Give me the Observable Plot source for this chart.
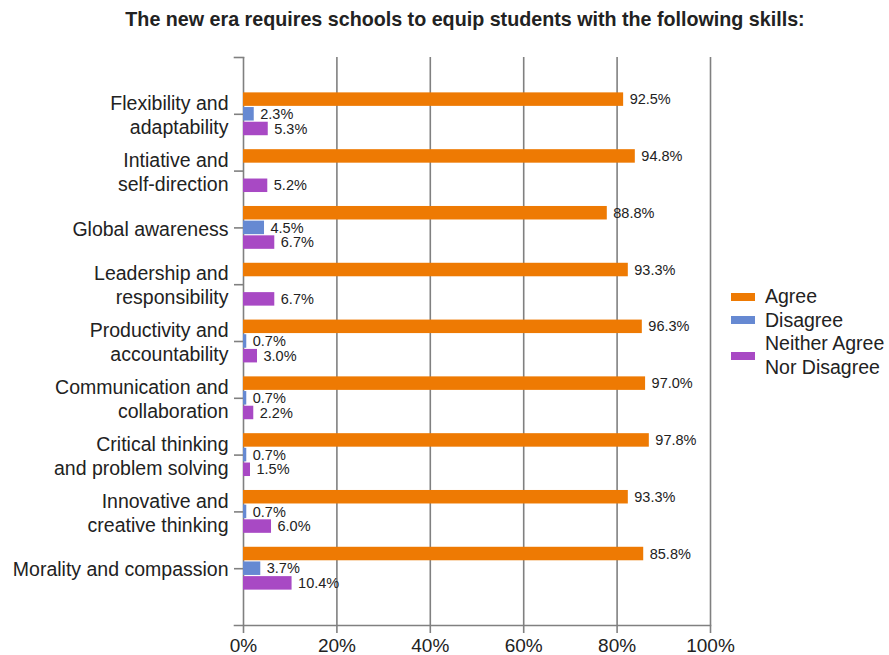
<!DOCTYPE html>
<html><head><meta charset="utf-8">
<script src="https://cdn.jsdelivr.net/npm/d3@7"></script>
<script src="https://cdn.jsdelivr.net/npm/@observablehq/plot@0.6"></script>
<style>
body{margin:0;background:#fff;font-family:"Liberation Sans",Arial,Helvetica,sans-serif;color:#222}
#wrap{position:relative;width:889px;height:655px;overflow:hidden}
#title{position:absolute;top:7px;left:465px;transform:translateX(-50%);white-space:nowrap;font-weight:bold;font-size:19.7px;line-height:24px}
#bg,#fg{position:absolute;top:40px;left:0}
#legend{position:absolute;left:731px;top:285px;font-size:19.5px}
.row{display:flex;align-items:center;line-height:23.5px}
.sw{width:24px;height:8px;margin-right:10px;flex:none}
.lab{white-space:pre-line}
</style></head><body>
<div id="wrap"><div id="title"></div><div id="bg"></div><div id="fg"></div><div id="legend"></div></div>
<script>
const titleText = "The new era requires schools to equip students with the following skills:";
const categories = [
  "Flexibility and\nadaptability",
  "Intiative and\nself-direction",
  "Global awareness",
  "Leadership and\nresponsibility",
  "Productivity and\naccountability",
  "Communication and\ncollaboration",
  "Critical thinking\nand problem solving",
  "Innovative and\ncreative thinking",
  "Morality and compassion"
];
const series = ["Agree", "Disagree", "Neither Agree Nor Disagree"];
const legendLabels = ["Agree", "Disagree", "Neither Agree\nNor Disagree"];
const colors = ["#EE7A03", "#6689D2", "#A849C4"];
// Agree: printed value labels, and bar lengths as drawn in the reference
const agreeValues = [92.5, 94.8, 88.8, 93.3, 96.3, 97.0, 97.8, 93.3, 85.8];
const agreeBars   = [81.4, 83.9, 77.9, 82.4, 85.4, 86.1, 86.9, 82.4, 85.7];
const disagree = [2.3, null, 4.5, null, 0.7, 0.7, 0.7, 0.7, 3.7];
const neither  = [5.3, 5.2, 6.7, 6.7, 3.0, 2.2, 1.5, 6.0, 10.4];
const xTicks = [0, 20, 40, 60, 80, 100];

const fmt = v => v.toFixed(1) + "%";
const rows = [];
categories.forEach((c, i) => {
  rows.push({category: c, series: series[0], value: agreeBars[i], label: fmt(agreeValues[i])});
  if (disagree[i] != null) rows.push({category: c, series: series[1], value: disagree[i], label: fmt(disagree[i])});
  if (neither[i] != null) rows.push({category: c, series: series[2], value: neither[i], label: fmt(neither[i])});
});

document.getElementById("title").textContent = titleText;

const W = 889, H = 615, mL = 243, mR = 179, mT = 17, mB = 30;
const grid = "#808080";
const font = "Liberation Sans, Arial, Helvetica, sans-serif";
const catPad = {type: "band", paddingInner: 0.225, paddingOuter: 0.6125, round: false};

// background: grid, axes, category labels
const bg = Plot.plot({
  width: W, height: H,
  marginTop: mT, marginBottom: mB, marginLeft: mL, marginRight: mR,
  style: {fontFamily: font, color: "#222", background: "transparent", overflow: "visible"},
  x: {domain: [0, 100]},
  y: {domain: categories, ...catPad},
  marks: [
    Plot.ruleX(xTicks, {stroke: grid, strokeWidth: 1.6, insetBottom: -8}),
    Plot.frame({anchor: "bottom", stroke: grid, strokeWidth: 1.6, insetLeft: -9}),
    Plot.frame({anchor: "top", stroke: grid, strokeWidth: 1.6, insetLeft: -9, insetRight: W - mL - mR}),
    Plot.axisY({anchor: "left", tickSize: 9, tickPadding: 6, fontSize: 19.5, lineHeight: 1.23, stroke: grid, strokeWidth: 1.6, label: null}),
    Plot.axisX({anchor: "bottom", ticks: xTicks, tickFormat: d => d + "%", tickSize: 0, tickPadding: 13, fontSize: 19, label: null})
  ]
});
document.getElementById("bg").append(bg);

// foreground: grouped bars and value labels
const fg = Plot.plot({
  width: W, height: H,
  marginTop: mT, marginBottom: mB, marginLeft: mL, marginRight: mR,
  style: {fontFamily: font, color: "#222", background: "transparent", overflow: "visible"},
  x: {domain: [0, 100], axis: null},
  y: {domain: series, paddingInner: 0.08, paddingOuter: 0.04, round: false, axis: null},
  fy: {domain: categories, ...catPad, axis: null},
  color: {domain: series, range: colors},
  marks: [
    Plot.barX(rows, {fy: "category", y: "series", x: "value", fill: "series", ariaLabel: "bars"}),
    Plot.text(rows, {fy: "category", y: "series", x: "value", text: "label", textAnchor: "start", dx: 6, fontSize: 14.5, fill: "#222", ariaLabel: "value-label"})
  ]
});
document.getElementById("fg").append(fg);

const NS = "http://www.w3.org/2000/svg";
// subtle glossy shading on the bars (same hue as the colour scale)
const defs = d3.select(fg).insert("defs", ":first-child");
colors.forEach((c, i) => {
  const g = defs.append("linearGradient").attr("id", "shade" + i).attr("x1", 0).attr("y1", 0).attr("x2", 0).attr("y2", 1);
  g.append("stop").attr("offset", "0%").attr("stop-color", d3.color(c).brighter(0.6));
  g.append("stop").attr("offset", "18%").attr("stop-color", c);
  g.append("stop").attr("offset", "100%").attr("stop-color", d3.color(c).darker(0.25));
});
d3.select(fg).selectAll('g[aria-label="bars"] rect').each(function() {
  const f = d3.color(this.getAttribute("fill"));
  const i = colors.findIndex(c => d3.color(c).formatHex() === (f && f.formatHex()));
  if (i >= 0) this.setAttribute("fill", `url(#shade${i})`);
});

// light grey boxes behind the value labels
d3.select(fg).selectAll('g[aria-label="value-label"] text').each(function() {
  const b = this.getBBox();
  const r = document.createElementNS(NS, "rect");
  r.setAttribute("x", b.x - 5);
  r.setAttribute("y", b.y + b.height / 2 - 9.75);
  r.setAttribute("width", b.width + 10);
  r.setAttribute("height", 19.5);
  r.setAttribute("fill", "#EBEBEB");
  const t = this.getAttribute("transform");
  if (t) r.setAttribute("transform", t);
  this.parentNode.insertBefore(r, this.parentNode.firstChild);
});

// legend
const lg = d3.select("#legend");
series.forEach((s, i) => {
  const row = lg.append("div").attr("class", "row");
  row.append("div").attr("class", "sw").style("background", colors[i]);
  row.append("div").attr("class", "lab").text(legendLabels[i]);
});
</script>
</body></html>
